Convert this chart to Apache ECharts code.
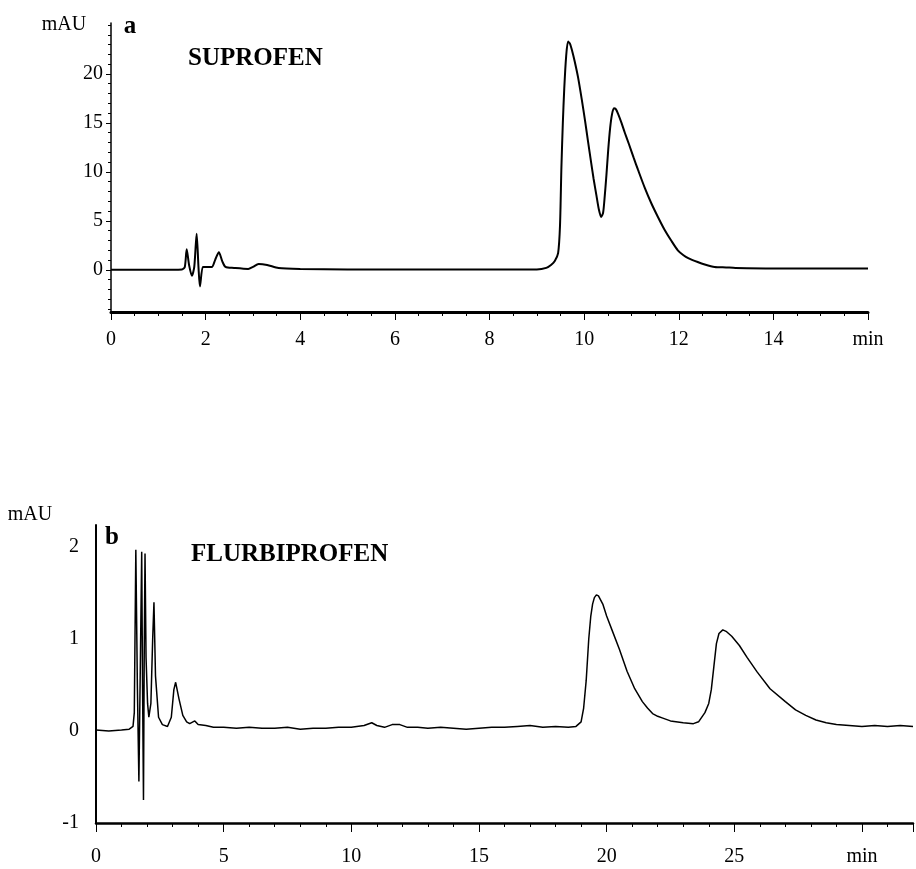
<!DOCTYPE html>
<html>
<head>
<meta charset="utf-8">
<script src="https://cdn.jsdelivr.net/npm/echarts@6/dist/echarts.min.js"></script>
<style>
  html, body { margin: 0; padding: 0; background: #fff; }
  #chart { width: 916px; height: 869px; }
</style>
</head>
<body>
<div id="chart"></div>
<script>
// panel a: suprofen (time in min, absorbance in mAU)
const suprofenTime = [
  0, 1.0, 1.5, 1.56, 1.6, 1.65, 1.71, 1.76, 1.81, 1.85, 1.88, 1.94, 2.0, 2.13, 2.2, 2.28, 2.35, 2.42,
  2.6, 2.9, 3.0, 3.12, 3.3, 3.54, 4.0, 5.0, 8.0, 9.0, 9.2, 9.3, 9.38, 9.45, 9.49, 9.52, 9.55, 9.58,
  9.62, 9.66, 9.7, 9.75, 9.8, 9.87, 9.95, 10.02, 10.08, 10.15, 10.2, 10.26, 10.31, 10.36, 10.4,
  10.43, 10.47, 10.51, 10.55, 10.59, 10.63, 10.67, 10.72, 10.79, 10.86, 10.95, 11.05, 11.14, 11.28,
  11.42, 11.56, 11.7, 11.84, 11.98, 12.1, 12.2, 12.4, 12.55, 12.76, 13.0, 13.2, 14.0, 15.0, 16.0
]
const suprofenSignal = [
  0, 0, 0.05, 0.3, 2.1, 0.5, -0.6, 0.3, 3.7, 0.2, -1.7, 0.3, 0.3, 0.3, 1.0, 1.8, 0.9, 0.3,
  0.2, 0.1, 0.3, 0.6, 0.5, 0.2, 0.1, 0.05, 0.05, 0.05, 0.2, 0.5, 0.9, 1.7, 4.5, 10.5, 15.0, 18.5,
  21.8, 23.3, 23.1, 22.3, 21.3, 19.7, 17.4, 15.2, 13.2, 10.9, 9.3, 7.6, 6.2, 5.4, 5.8,
  7.2, 9.6, 12.3, 14.5, 15.9, 16.5, 16.4, 15.9, 15.0, 14.0, 12.8, 11.4, 10.2, 8.4,
  6.8, 5.4, 4.1, 3.0, 2.0, 1.5, 1.2, 0.8, 0.55, 0.3, 0.25, 0.2, 0.15, 0.15, 0.15
]

// panel b: flurbiprofen
const flurbiprofenTime = [
  0, 0.5, 1.0, 1.3, 1.45, 1.5, 1.56, 1.62, 1.68, 1.74, 1.79, 1.82, 1.86, 1.89, 1.92, 1.96, 2.02, 2.07,
  2.15, 2.22, 2.27, 2.33, 2.45, 2.6, 2.8, 2.95, 3.05, 3.12, 3.25, 3.4, 3.55, 3.67, 3.87, 4.0, 4.3,
  4.6, 5.0, 5.5, 6.0, 6.5, 7.0, 7.5, 8.0, 8.5, 9.0, 9.5, 10.0, 10.5, 10.8, 11.0, 11.3, 11.6, 11.9,
  12.2, 12.6, 13.0, 13.5, 14.0, 14.5, 15.0, 15.5, 16.0, 16.5, 17.0, 17.5, 18.0, 18.5, 18.8, 19.0,
  19.1, 19.2, 19.3, 19.38, 19.45, 19.52, 19.6, 19.68, 19.75, 19.85, 20.0, 20.25, 20.5, 20.8, 21.1,
  21.4, 21.6, 21.8, 22.0, 22.2, 22.5, 23.0, 23.4, 23.6, 23.85, 24.0, 24.1, 24.2, 24.3, 24.4, 24.55,
  24.7, 24.9, 25.2, 25.5, 25.9, 26.4, 27.0, 27.4, 27.8, 28.2, 28.6, 29.0, 29.5, 30.0, 30.5, 31.0,
  31.5, 32.0
]
const flurbiprofenSignal = [
  0.01, 0.0, 0.01, 0.02, 0.05, 0.2, 1.97, 0.5, -0.55, 0.8, 1.95, 0.6, -0.75, 0.9, 1.93, 0.8, 0.3, 0.15,
  0.3, 1.0, 1.4, 0.6, 0.15, 0.07, 0.05, 0.15, 0.45, 0.53, 0.35, 0.17, 0.1, 0.08, 0.11, 0.07, 0.06,
  0.04, 0.04, 0.03, 0.04, 0.03, 0.03, 0.04, 0.02, 0.03, 0.03, 0.04, 0.04, 0.06, 0.09, 0.06, 0.04, 0.07, 0.07,
  0.04, 0.04, 0.03, 0.04, 0.03, 0.02, 0.03, 0.04, 0.04, 0.05, 0.06, 0.04, 0.05, 0.04, 0.05, 0.1,
  0.25, 0.55, 1.0, 1.25, 1.38, 1.45, 1.48, 1.47, 1.45, 1.38, 1.25, 1.07, 0.89, 0.65, 0.46,
  0.32, 0.25, 0.19, 0.16, 0.14, 0.11, 0.09, 0.08, 0.1, 0.2, 0.3, 0.45, 0.7, 0.95, 1.06, 1.1,
  1.08, 1.03, 0.93, 0.8, 0.64, 0.46, 0.32, 0.23, 0.17, 0.12, 0.09, 0.07, 0.06, 0.05, 0.06, 0.05,
  0.06, 0.05
]

const suprofenYTicks = [0, 5, 10, 15, 20]
const suprofenYMinor = [-4, -3, -2, -1, 0, 1, 2, 3, 4, 5, 6, 7, 8, 9, 10, 11, 12, 13, 14, 15, 16, 17, 18, 19, 20, 21, 22, 23, 24, 25]

const font = 'Liberation Serif, Times New Roman, serif'
const zip = (xs, ys) => xs.map((x, i) => [x, ys[i]])

const chart = echarts.init(document.getElementById('chart'))

const option = {
  animation: false,
  backgroundColor: '#fff',
  grid: [
    { left: 111, top: 23, width: 757, height: 289 },
    { left: 96, top: 525, right: 0, height: 298 },
  ],
  xAxis: [
    {
      gridIndex: 0,
      type: 'value',
      position: 'bottom',
      min: 0,
      max: 16,
      interval: 2,
      axisLine: { onZero: false, lineStyle: { color: '#000', width: 3 } },
      axisTick: { length: 8, lineStyle: { color: '#000', width: 1 } },
      minorTick: { show: true, splitNumber: 4, length: 4, lineStyle: { color: '#000', width: 1 } },
      splitLine: { show: false },
      axisLabel: {
        color: '#000', fontFamily: font, fontSize: 20, margin: 18,
        formatter: v => (v === 16 ? 'min' : String(v)),
      },
    },
    {
      gridIndex: 1,
      type: 'value',
      position: 'bottom',
      min: 0,
      max: 32,
      interval: 5,
      axisLine: { onZero: false, lineStyle: { color: '#000', width: 2.5 } },
      axisTick: { length: 9, lineStyle: { color: '#000', width: 1 } },
      minorTick: { show: true, splitNumber: 5, length: 4, lineStyle: { color: '#000', width: 1 } },
      splitLine: { show: false },
      axisLabel: {
        color: '#000', fontFamily: font, fontSize: 20, margin: 24,
        formatter: v => (v === 30 ? 'min' : v % 5 === 0 ? String(v) : ''),
      },
    },
  ],
  yAxis: [
    {
      gridIndex: 0,
      type: 'value',
      position: 'left',
      min: -4.3,
      max: 25.2,
      axisLine: { show: true, onZero: false, lineStyle: { color: '#000', width: 1.5 } },
      axisTick: { show: true, length: 5, customValues: suprofenYTicks, lineStyle: { color: '#000' } },
      splitLine: { show: false },
      axisLabel: {
        color: '#000', fontFamily: font, fontSize: 20, margin: 8,
        customValues: suprofenYTicks,
      },
    },
    {
      gridIndex: 0,
      type: 'value',
      position: 'left',
      min: -4.3,
      max: 25.2,
      axisLine: { show: false, onZero: false },
      axisTick: { show: true, length: 3, customValues: suprofenYMinor, lineStyle: { color: '#000' } },
      splitLine: { show: false },
      axisLabel: { show: false },
    },
    {
      gridIndex: 1,
      type: 'value',
      position: 'left',
      min: -1,
      max: 2.24,
      interval: 1,
      axisLine: { show: true, onZero: false, lineStyle: { color: '#000', width: 2 } },
      axisTick: { show: false },
      splitLine: { show: false },
      axisLabel: {
        color: '#000', fontFamily: font, fontSize: 20, margin: 17,
        formatter: v => (Number.isInteger(v) ? String(v) : ''),
      },
    },
  ],
  series: [
    {
      name: 'SUPROFEN',
      type: 'line',
      xAxisIndex: 0,
      yAxisIndex: 0,
      data: zip(suprofenTime, suprofenSignal),
      showSymbol: false,
      smooth: 0.25,
      lineStyle: { color: '#000', width: 2 },
    },
    {
      name: 'FLURBIPROFEN',
      type: 'line',
      xAxisIndex: 1,
      yAxisIndex: 2,
      data: zip(flurbiprofenTime, flurbiprofenSignal),
      showSymbol: false,
      smooth: false,
      lineStyle: { color: '#000', width: 1.5 },
    },
  ],
  graphic: [
    { type: 'text', x: 64, y: 25, style: { text: 'mAU', fill: '#000', font: '20px ' + font, align: 'center', verticalAlign: 'middle' } },
    { type: 'text', x: 130, y: 27, style: { text: 'a', fill: '#000', font: 'bold 25px ' + font, align: 'center', verticalAlign: 'middle' } },
    { type: 'text', x: 188, y: 59, style: { text: 'SUPROFEN', fill: '#000', font: 'bold 25px ' + font, align: 'left', verticalAlign: 'middle' } },
    { type: 'text', x: 30, y: 515, style: { text: 'mAU', fill: '#000', font: '20px ' + font, align: 'center', verticalAlign: 'middle' } },
    { type: 'text', x: 112, y: 538, style: { text: 'b', fill: '#000', font: 'bold 25px ' + font, align: 'center', verticalAlign: 'middle' } },
    { type: 'text', x: 191, y: 555, style: { text: 'FLURBIPROFEN', fill: '#000', font: 'bold 25px ' + font, align: 'left', verticalAlign: 'middle' } },
  ],
}

chart.setOption(option)
</script>
</body>
</html>
